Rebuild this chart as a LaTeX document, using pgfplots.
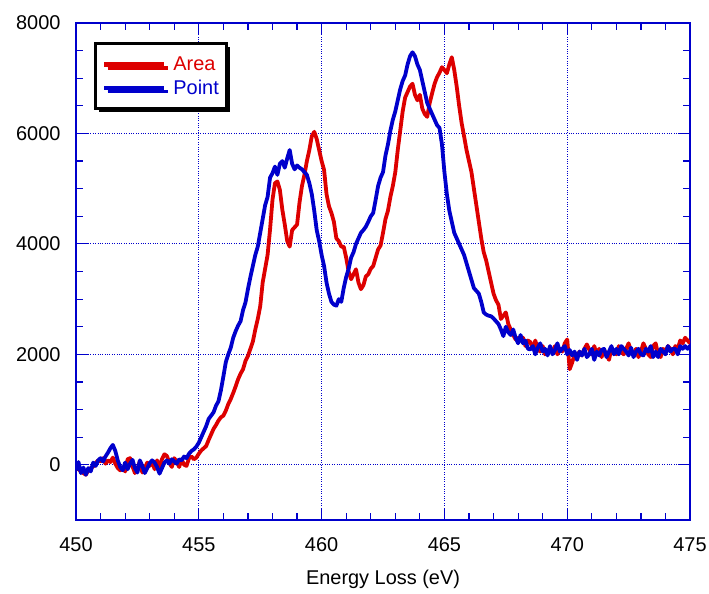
\documentclass[border=0pt]{standalone}
\usepackage{fontspec}
\setmainfont{Liberation Sans}
\usepackage{pgfplots}
\pgfplotsset{compat=1.18}
\usepackage{pgfplotstable}
\usetikzlibrary{shadows}
\definecolor{cred}{RGB}{221,0,0}
\definecolor{cblue}{RGB}{0,0,204}

\pgfplotstableread{
x A P
450.0 -50 -100
450.1 -80 50
450.2 -120 -150
450.3 -150 -50
450.4 -180 -180
450.5 -100 -60
450.6 -60 -120
450.7 -30 40
450.8 30 -20
450.9 80 80
451.0 60 120
451.1 120 60
451.2 20 150
451.3 80 220
451.4 50 300
451.5 130 360
451.6 20 250
451.7 -60 80
451.8 -100 -40
451.9 -50 -100
452.0 -120 40
452.1 100 -80
452.2 120 20
452.3 -30 90
452.4 -150 -60
452.5 -80 -140
452.6 70 80
452.7 -140 -20
452.8 -60 -150
452.9 40 -60
453.0 -20 30
453.1 60 80
453.2 -80 40
453.3 80 -40
453.4 -40 -160
453.5 100 -60
453.6 190 40
453.7 160 80
453.8 40 20
453.9 -40 100
454.0 120 60
454.1 60 20
454.2 -40 100
454.3 100 80
454.4 0 150
454.5 -20 120
454.6 120 200
454.7 150 250
454.8 100 280
454.9 130 330
455.0 200 400
455.1 260 500
455.2 300 600
455.3 340 700
455.4 450 830
455.5 550 890
455.6 650 950
455.7 720 1070
455.8 800 1150
455.9 860 1350
456.0 890 1600
456.1 980 1860
456.2 1100 2000
456.3 1190 2120
456.4 1300 2300
456.5 1420 2420
456.6 1550 2520
456.7 1650 2600
456.8 1730 2800
456.9 1880 2940
457.0 1970 3180
457.1 2100 3400
457.2 2230 3600
457.3 2450 3800
457.4 2640 3950
457.5 2870 4200
457.6 3300 4450
457.7 3550 4700
457.8 3800 4850
457.9 4260 5200
458.0 4800 5280
458.1 5100 5400
458.2 5130 5250
458.3 4980 5450
458.4 4620 5500
458.5 4350 5380
458.6 4050 5550
458.7 3950 5700
458.8 4250 5450
458.9 4300 5350
459.0 4350 5420
459.1 4750 5380
459.2 5050 5350
459.3 5250 5300
459.4 5500 5250
459.5 5700 5100
459.6 5950 4900
459.7 6030 4600
459.8 5900 4250
459.9 5700 4050
460.0 5500 3800
460.1 5340 3600
460.2 4900 3300
460.3 4680 3100
460.4 4560 2950
460.5 4400 2900
460.6 4100 2880
460.7 4050 3000
460.8 3950 2950
460.9 3950 3200
461.0 3750 3400
461.1 3500 3550
461.2 3360 3750
461.3 3450 3850
461.4 3540 4000
461.5 3300 4100
461.6 3180 4200
461.7 3250 4250
461.8 3410 4310
461.9 3450 4400
462.0 3550 4500
462.1 3600 4560
462.2 3750 4800
462.3 3900 5050
462.4 3970 5200
462.5 4200 5300
462.6 4450 5600
462.7 4600 5800
462.8 4850 6050
462.9 5050 6250
463.0 5300 6400
463.1 5700 6600
463.2 6050 6800
463.3 6400 6950
463.4 6650 7050
463.5 6750 7250
463.6 6850 7400
463.7 6900 7470
463.8 6700 7400
463.9 6600 7250
464.0 6700 7150
464.1 6450 6950
464.2 6350 6750
464.3 6300 6550
464.4 6550 6450
464.5 6730 6350
464.6 6900 6250
464.7 7020 6150
464.8 7100 6100
464.9 7200 5800
465.0 7150 5300
465.1 7090 4900
465.2 7250 4600
465.3 7380 4400
465.4 7150 4200
465.5 6850 4100
465.6 6500 4000
465.7 6190 3900
465.8 5950 3800
465.9 5700 3650
466.0 5500 3500
466.1 5300 3350
466.2 5000 3200
466.3 4700 3150
466.4 4400 3100
466.5 4100 2950
466.6 3850 2760
466.7 3700 2720
466.8 3500 2700
466.9 3300 2690
467.0 3100 2650
467.1 2980 2600
467.2 2900 2550
467.3 2640 2450
467.4 2700 2330
467.5 2760 2500
467.6 2550 2400
467.7 2450 2350
467.8 2350 2450
467.9 2270 2300
468.0 2300 2200
468.1 2250 2350
468.2 2300 2200
468.3 2150 2250
468.4 2250 2100
468.5 2220 2090
468.6 2100 2150
468.7 2250 2000
468.8 2100 2120
468.9 2050 2200
469.0 2150 2050
469.1 2000 2100
469.2 2040 1980
469.3 2100 2150
469.4 2050 2000
469.5 2150 2080
469.6 2000 2200
469.7 2100 2050
469.8 2050 2100
469.9 2200 2150
470.0 2270 2000
470.1 1730 2080
470.2 1850 1980
470.3 2000 2050
470.4 1950 1900
470.5 2050 2050
470.6 1980 1980
470.7 2100 2100
470.8 2180 1950
470.9 2080 2000
471.0 2000 2100
471.1 2150 1900
471.2 2000 2050
471.3 2100 1980
471.4 1950 2080
471.5 2080 2100
471.6 2000 1950
471.7 1900 2050
471.8 2100 2150
471.9 2050 2000
472.0 2000 2100
472.1 2150 2000
472.2 2050 2150
472.3 2000 2100
472.4 2100 2050
472.5 2200 1980
472.6 2050 2120
472.7 2000 1950
472.8 2100 2050
472.9 1950 2100
473.0 2050 2000
473.1 2200 1980
473.2 2100 2100
473.3 2000 2050
473.4 1950 2150
473.5 2150 1950
473.6 2200 2050
473.7 2000 1950
473.8 1950 2100
473.9 2100 2050
474.0 2050 2000
474.1 2150 2150
474.2 2100 2050
474.3 2000 2100
474.4 2150 2100
474.5 2100 2000
474.6 2250 2150
474.7 2200 2100
474.8 2300 2150
474.9 2250 2100
475.0 2200 2150
}\datatable

\begin{document}
\begin{tikzpicture}
\begin{axis}[
  scale only axis, width=614bp, height=497bp,
  xmin=450, xmax=475, ymin=-1000, ymax=8000,
  xtick={450,455,...,475}, ytick={0,2000,...,8000},
  minor x tick num=4, minor y tick num=3,
  tick pos=both, tick align=inside,
  major tick length=12bp, minor tick length=7bp,
  axis line style={cblue, line width=1.5bp},
  tick style={cblue, line width=1.2bp},
  grid=major,
  major grid style={cblue, dotted, line width=0.9bp},
  ticklabel style={font=\fontsize{20}{24}\selectfont, text=black},
  /pgf/number format/assume math mode=true,
  /pgf/number format/1000 sep={},
  scaled ticks=false,
  xticklabel style={yshift=-14bp},
  yticklabel style={xshift=-12bp},
  xlabel={Energy Loss (eV)},
  xlabel style={font=\fontsize{20}{24}\selectfont, at={(axis description cs:0.5,-0.12)}, anchor=center},
  legend style={at={(0.030,0.961)}, anchor=north west, draw=black, line width=3bp,
    fill=white, drop shadow={shadow xshift=3.5bp, shadow yshift=-3.5bp, fill=black, opacity=1},
    font=\fontsize{20}{24}\selectfont, inner xsep=6bp, inner ysep=11bp, row sep=4bp,
    cells={anchor=west}},
  legend image code/.code={\draw[#1, line width=4.5bp] (0bp,0bp) -- (60bp,0bp);},
]
\addplot[cred, line width=3.8bp, line join=round] table[x=x, y=A] {\datatable};
\addlegendentry{\hspace{5bp}\textcolor{cred}{Area}}
\addplot[cblue, line width=3.8bp, line join=round] table[x=x, y=P] {\datatable};
\addlegendentry{\hspace{5bp}\textcolor{cblue}{Point}}
\coordinate (BL) at (rel axis cs:-0.1238,-0.1469);
\coordinate (TR) at (rel axis cs:1.0309,1.0463);
\end{axis}
\pgfresetboundingbox
\path[use as bounding box] (BL) rectangle (TR);
\end{tikzpicture}
\end{document}
